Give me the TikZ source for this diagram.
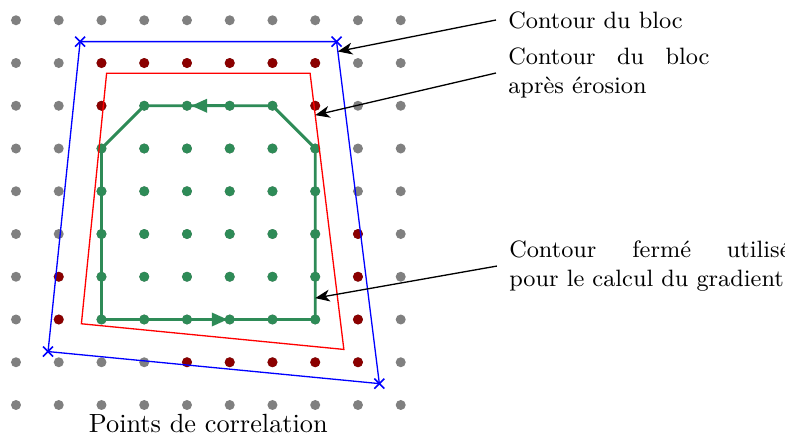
\documentclass[tikz,border=0pt]{standalone}
\usetikzlibrary{arrows.meta,shapes.misc}
\definecolor{gridgray}{RGB}{128,128,128}
\definecolor{dred}{RGB}{139,0,0}
\definecolor{sgreen}{RGB}{46,139,87}
\begin{document}
\begin{tikzpicture}[x=0.5713cm,y=0.5713cm,
  blk/.style={blue, line width=0.5pt},
  ero/.style={red, line width=0.5pt},
  gline/.style={sgreen, line width=1.1pt, line join=round},
  xmark/.style={draw=blue, cross out, line width=0.6pt, minimum size=3.2pt, inner sep=0pt},
  lbl/.style={font=\small, align=justify, inner xsep=4.5pt, anchor=west},
  ptr/.style={-{Stealth[length=5.5pt,width=4.5pt,inset=1.6pt]}, line width=0.5pt},
  garrow/.style={sgreen, line width=1.1pt, -{Triangle[length=6pt,width=5pt]}}]
\useasboundingbox (-0.374,-0.725) rectangle (17.99,9.474);
% grid of correlation points
\foreach \i in {0,...,9} \foreach \j in {0,...,9} \fill[gridgray] (\i,\j) circle[radius=1.9pt];
\foreach \x/\y in {2/8,3/8,4/8,5/8,6/8,7/8,2/7,7/7,8/4,1/3,8/3,1/2,8/2,4/1,5/1,6/1,7/1,8/1}
  \fill[dred] (\x,\y) circle[radius=1.9pt];
\foreach \x in {3,...,6} \fill[sgreen] (\x,7) circle[radius=1.9pt];
\foreach \x in {2,...,7} \foreach \y in {2,...,6} \fill[sgreen] (\x,\y) circle[radius=1.9pt];
% block contour
\coordinate (b1) at (1.5,8.5);
\coordinate (b2) at (7.5,8.5);
\coordinate (b3) at (8.5,0.5);
\coordinate (b4) at (0.75,1.25);
\draw[blk] (b1) -- (b2) -- (b3) -- (b4) -- cycle;
\foreach \c in {b1,b2,b3,b4} \node[xmark] at (\c) {};
% eroded contour
\coordinate (r1) at (2.12,7.76);
\coordinate (r2) at (6.88,7.76);
\coordinate (r3) at (7.67,1.30);
\coordinate (r4) at (1.53,1.90);
\draw[ero] (r1) -- (r2) -- (r3) -- (r4) -- cycle;
% closed contour
\coordinate (g1) at (2,2);
\coordinate (g2) at (7,2);
\coordinate (g3) at (7,6);
\coordinate (g4) at (6,7);
\coordinate (g5) at (3,7);
\coordinate (g6) at (2,6);
\draw[gline] (g1) -- (g2) -- (g3) -- (g4) -- (g5) -- (g6) -- cycle;
\coordinate (ga1) at (4,2);
\coordinate (ga2) at (4.95,2);
\coordinate (ga3) at (5,7);
\coordinate (ga4) at (4.1,7);
\draw[garrow] (ga1) -- (ga2);
\draw[garrow] (ga3) -- (ga4);
% labels
\node[lbl, text width=76.5pt] (n1) at (11.228,9.006) {Contour du bloc};
\node[lbl, text width=76.5pt] (n2) at (11.228,7.766) {Contour du bloc\linebreak après érosion};
\node[lbl, text width=107pt] (n3) at (11.25,3.25) {Contour fermé utilisé\linebreak pour le calcul du gradient};
\node[anchor=base] (pc) at (4.5,-0.639) {Points de correlation};
\coordinate (t1) at (7.53,8.27);
\coordinate (t2) at (7.0,6.78);
\coordinate (t3) at (7,2.5);
\draw[ptr] (n1.west) -- (t1);
\draw[ptr] (n2.west) -- (t2);
\draw[ptr] (n3.west) -- (t3);
\end{tikzpicture}
\end{document}
